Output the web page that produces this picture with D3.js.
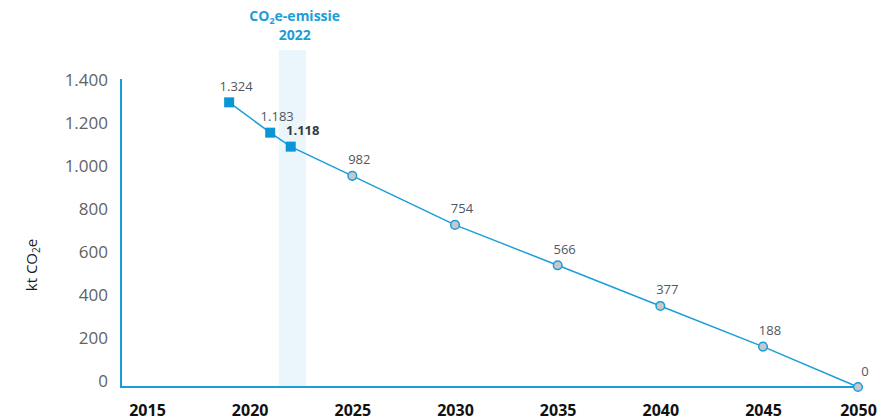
<!DOCTYPE html>
<html>
<head>
<meta charset="utf-8">
<script src="https://cdn.jsdelivr.net/npm/d3@7"></script>
<style>
  body { margin: 0; background: #fff; }
  text { font-family: "Open Sans", sans-serif; }
</style>
</head>
<body>
<div id="chart"></div>
<script>
const WIDTH = 894;
const HEIGHT = 420;

// historical emissions (squares) and target path (circles)
const histYears = [2019, 2021, 2022];
const histValues = [1324, 1183, 1118];
const targetYears = [2025, 2030, 2035, 2040, 2045, 2050];
const targetValues = [982, 754, 566, 377, 188, 0];
const xTicks = [2015, 2020, 2025, 2030, 2035, 2040, 2045, 2050];
const yTicks = [0, 200, 400, 600, 800, 1000, 1200, 1400];
const highlightYear = 2022;

const BLUE = "#1b9dd9";

const nl = d3.formatLocale({ decimal: ",", thousands: ".", grouping: [3], currency: ["€", ""] });
const fmt = nl.format(",d");

const svg = d3
  .select("#chart")
  .append("svg")
  .attr("width", WIDTH)
  .attr("height", HEIGHT);

const x = d3.scaleLinear().domain([2015, 2045, 2050]).range([147, 763, 858]);
const y = d3.scaleLinear().domain([0, 1400]).range([387, 86]);

// highlight band for 2022
svg
  .append("rect")
  .attr("x", x(highlightYear) - 12)
  .attr("y", 50)
  .attr("width", 27)
  .attr("height", y(0) - 50)
  .style("fill", "#eaf5fc");

const title = svg
  .append("text")
  .attr("x", x(highlightYear) + 4)
  .attr("y", 21)
  .attr("text-anchor", "middle")
  .attr("font-size", "14px")
  .attr("font-weight", "bold")
  .style("fill", BLUE);
title.append("tspan").text("CO");
title.append("tspan").attr("font-size", "9px").attr("dy", 3).text("2");
title.append("tspan").attr("dy", -3).text("e-emissie");
svg
  .append("text")
  .attr("x", x(highlightYear) + 4)
  .attr("y", 40)
  .attr("text-anchor", "middle")
  .attr("font-size", "14px")
  .attr("font-weight", "bold")
  .style("fill", BLUE)
  .text("2022");

// axes
const yAxis = svg
  .append("g")
  .attr("transform", "translate(121,0)")
  .call(d3.axisLeft(y).tickValues(yTicks).tickSize(0).tickPadding(13).tickFormat(fmt))
  .call((g) => g.select(".domain").remove());
yAxis
  .selectAll("text")
  .attr("transform", "translate(0,-6)")
  .attr("font-size", "17px")
  .attr("font-family", "Open Sans")
  .style("fill", "#626262");

const xAxis = svg
  .append("g")
  .attr("transform", `translate(0,${y(0)})`)
  .call(d3.axisBottom(x).tickValues(xTicks).tickSize(0).tickFormat(d3.format("d")))
  .call((g) => g.select(".domain").remove());
xAxis
  .selectAll("text")
  .attr("dy", null)
  .attr("y", 29)
  .attr("font-size", "16px")
  .attr("font-weight", "bold")
  .attr("font-family", "Open Sans")
  .style("fill", "#111");

svg
  .append("line")
  .attr("x1", 121)
  .attr("x2", 121)
  .attr("y1", y(1400) - 7)
  .attr("y2", y(0) + 1)
  .style("stroke", BLUE)
  .style("stroke-width", 2);
svg
  .append("line")
  .attr("x1", 120)
  .attr("x2", 862)
  .attr("y1", y(0))
  .attr("y2", y(0))
  .style("stroke", BLUE)
  .style("stroke-width", 2);

const yTitle = svg
  .append("text")
  .attr("transform", "translate(37,265) rotate(-90)")
  .attr("text-anchor", "middle")
  .attr("font-size", "15px")
  .style("fill", "#1a1a1a");
yTitle.append("tspan").text("kt CO");
yTitle.append("tspan").attr("font-size", "10px").attr("dy", 3).text("2");
yTitle.append("tspan").attr("dy", -3).text("e");

// line through all points
const hist = histYears.map((yr, i) => ({ year: yr, value: histValues[i] }));
const target = targetYears.map((yr, i) => ({ year: yr, value: targetValues[i] }));
const all = hist.concat(target);

svg
  .append("path")
  .datum(all)
  .attr("d", d3.line().x((d) => x(d.year)).y((d) => y(d.value)))
  .style("fill", "none")
  .style("stroke", BLUE)
  .style("stroke-width", 1.5);

svg
  .selectAll(".sq")
  .data(hist)
  .enter()
  .append("rect")
  .attr("class", "sq")
  .attr("x", (d) => x(d.year) - 5)
  .attr("y", (d) => y(d.value) - 5)
  .attr("width", 10)
  .attr("height", 10)
  .style("fill", "#0a96d6");

svg
  .selectAll(".dot")
  .data(target)
  .enter()
  .append("circle")
  .attr("class", "dot")
  .attr("cx", (d) => x(d.year))
  .attr("cy", (d) => y(d.value))
  .attr("r", 4.3)
  .style("fill", "#c8c8c8")
  .style("stroke", BLUE)
  .style("stroke-width", 1.5);

svg
  .selectAll(".lbl")
  .data(all)
  .enter()
  .append("text")
  .attr("class", "lbl")
  .attr("x", (d) => x(d.year) + (d.year === highlightYear ? 12 : 7))
  .attr("y", (d) => y(d.value) - 11.5)
  .attr("text-anchor", "middle")
  .attr("font-size", "13px")
  .attr("font-weight", (d) => (d.year === highlightYear ? "bold" : "normal"))
  .style("fill", (d) => (d.year === highlightYear ? "#333e48" : "#4f5862"))
  .text((d) => fmt(d.value));
</script>
</body>
</html>
